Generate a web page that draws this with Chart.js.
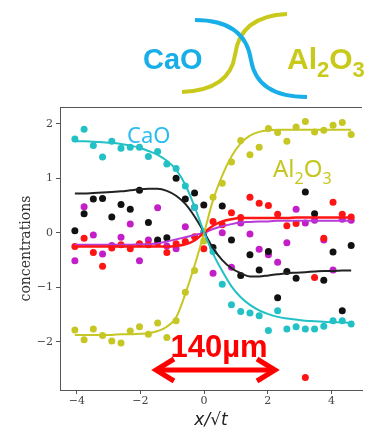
<!DOCTYPE html>
<html lang="en">
<head>
  <meta charset="UTF-8" />
  <title>CaO / Al2O3 concentration profiles</title>
  <script src="https://cdn.jsdelivr.net/npm/chart.js"></script>
  <style>
    html, body { margin: 0; padding: 0; background: #fff; }
    #wrap { width: 366px; height: 433px; }
  </style>
</head>
<body>
  <div id="wrap"><canvas id="profileChart" width="366" height="433"></canvas></div>

  <script>
    // sample positions (x / sqrt(t)) shared by all series
    const xPos = [-4.06, -3.77, -3.48, -3.19, -2.90, -2.61, -2.32, -2.03, -1.75, -1.46, -1.17,
                  -0.88, -0.59, -0.30, -0.01, 0.28, 0.57, 0.86, 1.15, 1.44, 1.73, 2.02,
                  2.31, 2.60, 2.89, 3.18, 3.47, 3.76, 4.05, 4.34, 4.62];

    // measured points
    const caoPts   = [1.72, 1.90, 1.60, 1.39, 1.68, 1.55, 1.57, 1.57, 1.40, 1.49, 1.26, 1.18, 0.86, 0.47, 0.02,
                      -0.34, -0.94, -1.32, -1.44, -1.47, -1.52, -1.79, -1.43, -1.76, -1.72, -1.76, -1.76, -1.71, -1.61, -1.61, -1.67];
    const al2o3Pts = [-1.78, -1.96, -1.76, -1.88, -1.98, -2.02, -1.80, -1.72, -1.86, -1.65, -1.92, -1.61, -1.09, -0.69, -0.15,
                      0.65, 0.91, 1.30, 1.69, 1.43, 1.57, 1.91, 1.84, 1.68, 1.94, 2.04, 1.85, 1.88, 1.97, 2.02, 1.80];
    const blackPts = [0.04, 0.35, 0.62, 0.63, 0.29, 0.52, 0.43, 0.78, 0.19, -0.13, -0.09, 1.00, 0.62, 0.73, 0.51,
                      -0.27, 0.49, -0.13, -0.78, -0.40, -0.68, -0.34, -1.19, -0.71, -0.83, 0.75, 0.35, -0.87, -0.35, -1.43, -0.23];
    const redPts   = [-0.25, -0.10, -0.36, -0.61, -0.28, -0.22, -0.29, -0.20, -0.22, -0.18, -0.36, -0.20, -0.16, -0.07, -0.29,
                      0.21, 0.15, 0.37, 0.28, 0.65, 0.54, 0.50, 0.34, 0.13, 0.17, -2.65, -0.82, -0.10, 0.56, 0.34, 0.29];
    const magPts   = [-0.51, 0.48, -0.04, -0.39, -0.23, -0.08, 0.16, -0.51, -0.13, 0.46, -0.24, -0.29, 0.11, 0.47, 0.00,
                      -0.74, 0.00, -0.63, 0.18, -0.02, -0.30, -0.40, -0.54, -0.18, 0.43, 0.18, 0.23, -0.13, -0.68, 0.25, 0.23];

    // fitted profiles
    const caoFit   = [1.68, 1.68, 1.67, 1.66, 1.65, 1.63, 1.60, 1.56, 1.50, 1.43, 1.32, 1.16, 0.88, 0.48, 0.02,
                      -0.38, -0.70, -0.98, -1.18, -1.32, -1.42, -1.49, -1.54, -1.57, -1.59, -1.61, -1.62, -1.63, -1.64, -1.64, -1.65];
    const al2o3Fit = [-1.87, -1.87, -1.87, -1.87, -1.87, -1.86, -1.86, -1.85, -1.84, -1.80, -1.72, -1.55, -1.12, -0.60, -0.02,
                      0.60, 1.05, 1.40, 1.64, 1.78, 1.85, 1.88, 1.89, 1.89, 1.89, 1.89, 1.89, 1.89, 1.89, 1.89, 1.89];
    const blackFit = [0.72, 0.72, 0.73, 0.74, 0.75, 0.76, 0.78, 0.80, 0.81, 0.81, 0.77, 0.68, 0.53, 0.30, 0.02,
                      -0.28, -0.50, -0.65, -0.74, -0.80, -0.80, -0.78, -0.76, -0.74, -0.73, -0.72, -0.71, -0.70, -0.70, -0.69, -0.69];
    const redFit   = [-0.25, -0.25, -0.25, -0.25, -0.25, -0.25, -0.25, -0.25, -0.25, -0.25, -0.25, -0.24, -0.21, -0.14, 0.00,
                      0.13, 0.21, 0.25, 0.27, 0.27, 0.27, 0.27, 0.27, 0.27, 0.28, 0.28, 0.28, 0.28, 0.28, 0.28, 0.28];
    const magFit   = [-0.22, -0.22, -0.22, -0.22, -0.22, -0.22, -0.22, -0.21, -0.21, -0.19, -0.16, -0.12, -0.08, -0.04, 0.00,
                      0.07, 0.12, 0.16, 0.19, 0.20, 0.21, 0.21, 0.22, 0.22, 0.22, 0.22, 0.22, 0.22, 0.22, 0.22, 0.22];

    const xTicks = [-4, -2, 0, 2, 4];
    const yTicks = [-2, -1, 0, 1, 2];

    const CYAN = '#22c1c6', OLIVE = '#c6c624', BLACK = '#111111', RED = '#ff1414', MAGENTA = '#c21fc8';

    const pairs = ys => xPos.map((x, i) => ({ x: x, y: ys[i] }));

    function fitLine(ys, color, width) {
      return {
        type: 'line', data: pairs(ys), borderColor: color, borderWidth: width || 2,
        pointRadius: 0, cubicInterpolationMode: 'monotone', fill: false
      };
    }
    function dots(ys, color) {
      return {
        type: 'scatter', data: pairs(ys), backgroundColor: color, borderWidth: 0,
        pointRadius: 3.5, showLine: false
      };
    }

    const minusFmt = v => (v < 0 ? '\u2212' + Math.abs(v) : String(v));

    // extra drawing: top frame, header sketch, labels and the 140 µm arrow
    const overlay = {
      id: 'overlay',
      afterDraw(chart) {
        const { ctx, chartArea: a } = chart;
        ctx.save();
        ctx.strokeStyle = '#555'; ctx.lineWidth = 1;
        ctx.beginPath(); ctx.moveTo(a.left, a.top + 0.5); ctx.lineTo(a.right, a.top + 0.5); ctx.stroke();

        // header sketch
        ctx.lineWidth = 4; ctx.lineCap = 'butt';
        ctx.strokeStyle = '#c9c91c';
        ctx.beginPath(); ctx.moveTo(182, 92);
        ctx.quadraticCurveTo(230, 90, 235, 55); ctx.quadraticCurveTo(240, 16, 287, 14); ctx.stroke();
        ctx.strokeStyle = '#18aee8';
        ctx.beginPath(); ctx.moveTo(195, 20);
        ctx.quadraticCurveTo(245, 20, 251, 60); ctx.quadraticCurveTo(257, 97, 307, 97); ctx.stroke();

        ctx.textBaseline = 'alphabetic'; ctx.textAlign = 'left';
        ctx.font = 'bold 29px "Liberation Sans"';
        ctx.fillStyle = '#18aee8';
        ctx.fillText('CaO', 143, 69);
        drawFormula(ctx, 287, 69, 'bold 30px "Liberation Sans"', 'bold 22px "Liberation Sans"', 8, '#c9c91c');

        // in-plot labels
        ctx.font = '22px "Noto Sans"';
        ctx.fillStyle = '#2bbcef';
        ctx.fillText('CaO', 127, 143);
        drawFormula(ctx, 273, 177, '24px "Noto Sans"', '16px "Noto Sans"', 7, '#c6c620');

        // scale arrow
        ctx.fillStyle = '#ff0000';
        ctx.textAlign = 'center';
        ctx.font = 'bold 31px "Liberation Sans"';
        ctx.fillText('140\u00b5m', 219, 357);
        ctx.strokeStyle = '#ff0000'; ctx.lineWidth = 5; ctx.lineJoin = 'miter';
        ctx.beginPath(); ctx.moveTo(156, 370); ctx.lineTo(275, 370); ctx.stroke();
        ctx.beginPath(); ctx.moveTo(174, 359); ctx.lineTo(156, 370); ctx.lineTo(174, 381); ctx.stroke();
        ctx.beginPath(); ctx.moveTo(257, 359); ctx.lineTo(275, 370); ctx.lineTo(257, 381); ctx.stroke();
        ctx.restore();
      }
    };

    // Al2O3 with subscripts
    function drawFormula(ctx, x, y, big, small, drop, color) {
      ctx.fillStyle = color;
      const parts = [['Al', big, 0], ['2', small, drop], ['O', big, 0], ['3', small, drop]];
      parts.forEach(p => {
        ctx.font = p[1];
        ctx.fillText(p[0], x, y + p[2]);
        x += ctx.measureText(p[0]).width;
      });
    }

    new Chart(document.getElementById('profileChart'), {
      data: {
        datasets: [
          fitLine(caoFit, CYAN),
          fitLine(al2o3Fit, OLIVE),
          fitLine(blackFit, '#222222'),
          fitLine(redFit, RED, 2.5),
          fitLine(magFit, '#b83ad8'),
          dots(caoPts, CYAN),
          dots(al2o3Pts, OLIVE),
          dots(blackPts, BLACK),
          dots(redPts, RED),
          dots(magPts, MAGENTA)
        ]
      },
      options: {
        responsive: false,
        animation: false,
        layout: { padding: { top: 107, left: 0, right: 0, bottom: 0 } },
        plugins: { legend: { display: false }, tooltip: { enabled: false } },
        scales: {
          x: {
            type: 'linear', min: -4.527, max: 4.96,
            afterBuildTicks: s => { s.ticks = xTicks.map(v => ({ value: v })); },
            afterFit: s => { s.height = 43; },
            ticks: { font: { family: 'DejaVu Serif', size: 11 }, color: '#444', padding: 1, callback: minusFmt },
            grid: { drawOnChartArea: false, tickLength: 4, tickColor: '#555' },
            border: { color: '#555' },
            title: {
              display: true, text: 'x/\u221at', color: '#222',
              font: { family: 'DejaVu Sans', style: 'italic', size: 17 },
              padding: { top: 0, bottom: 2 }
            }
          },
          y: {
            type: 'linear', min: -2.88, max: 2.306,
            afterBuildTicks: s => { s.ticks = yTicks.map(v => ({ value: v })); },
            afterFit: s => { s.width = 60; },
            ticks: { font: { family: 'DejaVu Serif', size: 11 }, color: '#444', padding: 3, callback: minusFmt },
            grid: { drawOnChartArea: false, tickLength: 4, tickColor: '#555' },
            border: { color: '#555' },
            title: {
              display: true, text: 'concentrations', color: '#333',
              font: { family: 'DejaVu Serif', size: 14 },
              padding: { top: 18, bottom: 0 }
            }
          }
        }
      },
      plugins: [overlay]
    });
  </script>
</body>
</html>
